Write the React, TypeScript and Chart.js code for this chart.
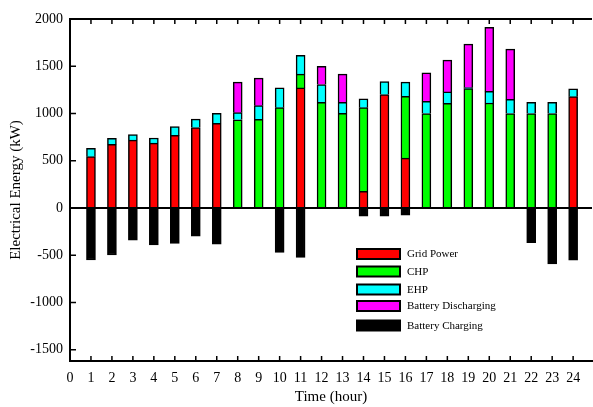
import React, { useEffect, useRef } from 'react';
import { Chart, registerables } from 'chart.js';

Chart.register(...registerables);

const hours = [1, 2, 3, 4, 5, 6, 7, 8, 9, 10, 11, 12, 13, 14, 15, 16, 17, 18, 19, 20, 21, 22, 23, 24];
const xTickValues = [0, 1, 2, 3, 4, 5, 6, 7, 8, 9, 10, 11, 12, 13, 14, 15, 16, 17, 18, 19, 20, 21, 22, 23, 24];
const yTickValues = [-1500, -1000, -500, 0, 500, 1000, 1500, 2000];

const gridPower = [543, 673, 719, 687, 769, 851, 897, 0, 0, 0, 1271, 0, 0, 176, 1200, 527, 0, 0, 0, 0, 0, 0, 0, 1178];
const chp = [0, 0, 0, 0, 0, 0, 0, 934, 938, 1062, 146, 1119, 1002, 886, 0, 656, 1000, 1107, 1263, 1111, 1000, 1000, 1000, 0];
const ehp = [88, 64, 58, 54, 93, 89, 106, 75, 145, 209, 198, 188, 117, 92, 138, 149, 128, 121, 10, 123, 149, 117, 117, 82];
const batteryDischarging = [0, 0, 0, 0, 0, 0, 0, 323, 292, 0, 0, 191, 298, 0, 0, 0, 302, 336, 461, 678, 532, 0, 0, 0];
const batteryCharging = [-550, -497, -341, -390, -376, -298, -383, 0, 0, -470, -523, 0, 0, -87, -87, -76, 0, 0, 0, 0, 0, -368, -592, -553];

const seriesLabels = ['Grid Power', 'CHP', 'EHP', 'Battery Discharging', 'Battery Charging'];
const seriesColors = ['#ff0000', '#00ff00', '#00ffff', '#ff00ff', '#000000'];
const seriesValues = [gridPower, chp, ehp, batteryDischarging, batteryCharging];

const FONT = '"Liberation Serif", "Times New Roman", serif';

const overlayPlugin = {
  id: 'overlay',
  afterDraw(chart: any) {
    const ctx = chart.ctx;
    const { left, top, right, bottom } = chart.chartArea;
    const xs = chart.scales.x;
    const ys = chart.scales.y;
    ctx.save();
    ctx.strokeStyle = '#000';
    // top border
    ctx.lineWidth = 2;
    ctx.beginPath();
    ctx.moveTo(left - 1, top);
    ctx.lineTo(right, top);
    ctx.stroke();
    // zero line
    const y0 = ys.getPixelForValue(0);
    ctx.beginPath();
    ctx.moveTo(left, y0);
    ctx.lineTo(right, y0);
    ctx.stroke();
    // inward ticks
    ctx.lineWidth = 1.5;
    ctx.beginPath();
    xTickValues.forEach((v) => {
      const px = xs.getPixelForValue(v);
      ctx.moveTo(px, bottom);
      ctx.lineTo(px, bottom - 5);
      ctx.moveTo(px, top);
      ctx.lineTo(px, top + 5);
    });
    yTickValues.forEach((v) => {
      const py = ys.getPixelForValue(v);
      ctx.moveTo(left, py);
      ctx.lineTo(left + 6, py);
    });
    ctx.stroke();
    // legend
    const rowY = [254, 271.5, 289.5, 306, 325.5];
    chart.data.datasets.forEach((ds: any, i: number) => {
      const y = rowY[i];
      ctx.fillStyle = ds.backgroundColor;
      ctx.fillRect(357, y - 5, 43, 10);
      ctx.lineWidth = 2;
      ctx.strokeStyle = '#000';
      ctx.strokeRect(357, y - 5, 43, 10);
      ctx.fillStyle = '#000';
      ctx.font = '11px ' + FONT;
      ctx.textBaseline = 'middle';
      ctx.textAlign = 'left';
      ctx.fillText(ds.label, 407, y + 0.5);
    });
    ctx.restore();
  },
};

export default function App() {
  const canvasRef = useRef<HTMLCanvasElement | null>(null);

  useEffect(() => {
    if (!canvasRef.current) return;
    const datasets = seriesLabels.map((label, i) => ({
      label,
      data: hours.map((h, j) => ({ x: h, y: seriesValues[i][j] === 0 ? null : seriesValues[i][j] })),
      backgroundColor: seriesColors[i],
      borderColor: '#000',
      borderWidth: 1.5,
      barThickness: 9,
    }));
    const chart = new Chart(canvasRef.current, {
      type: 'bar',
      data: { datasets } as any,
      plugins: [overlayPlugin],
      options: {
        responsive: true,
        maintainAspectRatio: false,
        animation: false,
        layout: { padding: { top: 19, right: 1, left: 0, bottom: 0 } },
        plugins: { legend: { display: false }, tooltip: { enabled: false } },
        scales: {
          x: {
            type: 'linear',
            min: 0,
            max: 24.9,
            stacked: true,
            offset: false,
            grid: { color: 'transparent', drawTicks: false, offset: false },
            border: { display: true, color: '#000', width: 2 },
            afterBuildTicks: (s: any) => {
              s.ticks = xTickValues.map((v) => ({ value: v }));
            },
            ticks: {
              autoSkip: false,
              maxRotation: 0,
              padding: 9,
              color: '#000',
              font: { family: FONT, size: 14 },
              callback: (v: any) => String(v),
            },
            title: {
              display: true,
              text: 'Time (hour)',
              color: '#000',
              font: { family: FONT, size: 15 },
              padding: { top: 0, bottom: 1 },
            },
            afterFit: (s: any) => {
              s.height = 46;
            },
          },
          y: {
            type: 'linear',
            min: -1619,
            max: 2000,
            stacked: true,
            grid: { color: 'transparent', drawTicks: false },
            border: { display: true, color: '#000', width: 2 },
            afterBuildTicks: (s: any) => {
              s.ticks = yTickValues.map((v) => ({ value: v }));
            },
            ticks: {
              padding: 7,
              color: '#000',
              font: { family: FONT, size: 14 },
              callback: (v: any) => String(v),
            },
            title: {
              display: true,
              text: 'Electrical Energy (kW)',
              color: '#000',
              font: { family: FONT, size: 15 },
              padding: { top: 7, bottom: 0 },
            },
            afterFit: (s: any) => {
              s.width = 70;
            },
          },
        },
      } as any,
    });
    return () => chart.destroy();
  }, []);

  return (
    <div style={{ position: 'fixed', left: 0, top: 0, width: 593, height: 407, background: '#fff' }}>
      <canvas ref={canvasRef} />
    </div>
  );
}
